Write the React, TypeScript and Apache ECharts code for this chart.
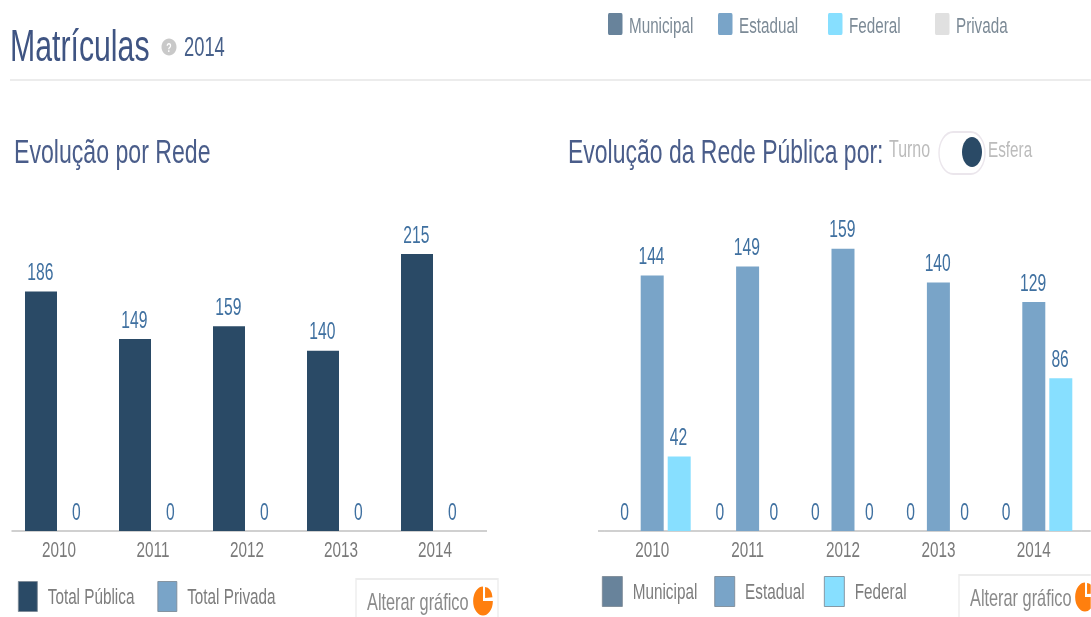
import React, { useEffect, useRef } from "react";
import * as echarts from "echarts";

const years = ["2010", "2011", "2012", "2013", "2014"];
const totalPublica = [186, 149, 159, 140, 215];
const totalPrivada = [0, 0, 0, 0, 0];
const municipal = [0, 0, 0, 0, 0];
const estadual = [144, 149, 159, 140, 129];
const federal = [42, 0, 0, 0, 86];
const topLegend = [
  { name: "Municipal", color: "#68839b", sq: 608, tx: 629 },
  { name: "Estadual", color: "#79a4c8", sq: 718, tx: 739 },
  { name: "Federal", color: "#87dfff", sq: 828, tx: 849 },
  { name: "Privada", color: "#e0e0e0", sq: 935, tx: 956 },
];

const S = 0.68;
const W = 1091 / S;
const H = 617;
const X = (x: number) => x / S;
const FONT = "'Liberation Sans', Arial, sans-serif";

const COL_DARK = "#2a4a66";
const COL_EST = "#79a4c8";
const COL_FED = "#87dfff";
const COL_MUN = "#68839b";
const COL_LABEL = "#3f70a0";
const COL_TITLE = "#3f5482";
const COL_AXIS = "#d0d0d0";
const COL_LEG = "#7d7d7d";

function text(x: number, y: number, t: string, size: number, fill: string, extra: any = {}) {
  return {
    type: "text",
    x: X(x),
    y,
    silent: true,
    style: { text: t, fontSize: size, fontFamily: FONT, fill, textVerticalAlign: "middle", verticalAlign: "middle", ...extra },
  };
}

function barSeries(name: string, data: number[], color: string, idx: number, width: number, gap: string) {
  return {
    type: "bar",
    name,
    data,
    xAxisIndex: idx,
    yAxisIndex: idx,
    barWidth: X(width),
    barGap: gap,
    itemStyle: { color },
    label: {
      show: true,
      position: "top",
      distance: 8,
      offset: [X(-0.7), 0],
      color: COL_LABEL,
      fontSize: 23,
      fontFamily: FONT,
    },
  };
}

function axisPair(max: number) {
  return {
    x: {
      type: "category",
      data: years,
      axisTick: { show: false },
      axisLine: { show: true, lineStyle: { color: COL_AXIS, width: 2 } },
      axisLabel: { color: "#7a7a7a", fontSize: 22.5, fontFamily: FONT, margin: 7 },
    },
    y: { type: "value", min: 0, max, show: false, splitLine: { show: false } },
  };
}

function altBox(left: number, right: number, top: number, textX: number, iconX: number) {
  const cy = top + 22;
  return [
    {
      type: "rect",
      silent: true,
      shape: { x: X(left), y: top, width: X(right - left), height: 80 },
      style: { fill: "#fff", stroke: "#ececec", lineWidth: 2 },
    },
    text(textX, cy, "Alterar gráfico", 24, "#8a8a8a"),
    {
      type: "sector",
      silent: true,
      shape: { cx: X(iconX), cy: cy, r: 14.5, r0: 0, startAngle: 0, endAngle: Math.PI * 1.5, clockwise: true },
      style: { fill: "#ff7f0e" },
    },
    {
      type: "sector",
      silent: true,
      shape: { cx: X(iconX) + 3, cy: cy - 3, r: 11, r0: 0, startAngle: Math.PI * 1.5, endAngle: Math.PI * 1.98, clockwise: true },
      style: { fill: "#ff7f0e" },
    },
  ];
}

function rightLegend(names: string[], leftX: number) {
  return {
    data: names,
    left: X(leftX),
    top: 576,
    padding: 0,
    selectedMode: false,
    icon: "rect",
    itemWidth: X(20),
    itemHeight: 30,
    itemGap: X(17),
    itemStyle: { borderColor: "#7b8894", borderWidth: 1 },
    textStyle: { color: COL_LEG, fontSize: 22.5, fontFamily: FONT, padding: [0, 0, 0, X(7)] },
  };
}

export default function App() {
  const ref = useRef<HTMLDivElement>(null);
  useEffect(() => {
    const chart = echarts.init(ref.current!, undefined, { renderer: "svg" });
    const left = axisPair(250);
    const right = axisPair(180);
    chart.setOption({
      animation: false,
      backgroundColor: "#fff",
      grid: [
        { left: X(12), width: X(470), top: 531 - 250 * 1.288, height: 250 * 1.288 },
        { left: X(604.5), width: X(477), top: 531 - 180 * 1.775, height: 180 * 1.775 },
      ],
      xAxis: [
        { ...left.x, gridIndex: 0 },
        { ...right.x, gridIndex: 1 },
      ],
      yAxis: [
        { ...left.y, gridIndex: 0 },
        { ...right.y, gridIndex: 1 },
      ],
      legend: [
        {
          data: ["Total Pública", "Total Privada"],
          left: X(18),
          top: 581,
          padding: 0,
          selectedMode: false,
          icon: "rect",
          itemWidth: X(19),
          itemHeight: 30,
          itemGap: X(23),
          itemStyle: { borderColor: "#7b8894", borderWidth: 1 },
          textStyle: { color: COL_LEG, fontSize: 22.5, fontFamily: FONT, padding: [0, 0, 0, X(7)] },
        },
        rightLegend(["Municipal", "Estadual"], 602),
        rightLegend(["Federal"], 824),
      ],
      series: [
        barSeries("Total Pública", totalPublica, COL_DARK, 0, 32, "12.5%"),
        barSeries("Total Privada", totalPrivada, COL_EST, 0, 32, "12.5%"),
        barSeries("Municipal", municipal, COL_MUN, 1, 23, "17.4%"),
        barSeries("Estadual", estadual, COL_EST, 1, 23, "17.4%"),
        barSeries("Federal", federal, COL_FED, 1, 23, "17.4%"),
      ],
      graphic: {
        elements: [
          text(10, 46, "Matrículas", 44.5, COL_TITLE),
          { type: "ellipse", silent: true, shape: { cx: X(169), cy: 47, rx: X(7.5), ry: 8.5 }, style: { fill: "#c9c9c9" } },
          text(169, 47, "?", 13, "#fff", { textAlign: "center", fontWeight: "bold" }),
          text(184, 47, "2014", 27, "#47608a"),
          { type: "rect", silent: true, shape: { x: X(10), y: 79, width: X(1081), height: 2 }, style: { fill: "#ececec" } },
          text(14, 151, "Evolução por Rede", 34, "#4a5d8a"),
          text(568, 151, "Evolução da Rede Pública por:", 33.8, "#4a5d8a"),
          text(889, 149, "Turno", 23.5, "#bcbcbc"),
          text(988, 149, "Esfera", 22.5, "#bcbcbc"),
          {
            type: "rect",
            silent: true,
            shape: { x: X(939), y: 132, width: X(46), height: 42, r: 21 },
            style: { fill: "#fff", stroke: "#ebe6ec", lineWidth: 2 },
          },
          { type: "ellipse", silent: true, shape: { cx: X(972), cy: 152, rx: X(10), ry: 15 }, style: { fill: "#2a4a66" } },
          ...topLegend.flatMap((d) => [
            {
              type: "rect",
              silent: true,
              shape: { x: X(d.sq), y: 13, width: X(14.5), height: 22, r: 2 },
              style: { fill: d.color },
            },
            text(d.tx, 25, d.name, 22.4, "#7c8a96"),
          ]),
          { type: "line", silent: true, shape: { x1: X(482), y1: 531, x2: X(487), y2: 531 }, style: { stroke: COL_AXIS, lineWidth: 2 } },
          { type: "line", silent: true, shape: { x1: X(598), y1: 531, x2: X(604.5), y2: 531 }, style: { stroke: COL_AXIS, lineWidth: 2 } },
          { type: "line", silent: true, shape: { x1: X(1081.5), y1: 531, x2: X(1091), y2: 531 }, style: { stroke: COL_AXIS, lineWidth: 2 } },
          ...altBox(356, 498, 579, 367, 483),
          ...altBox(959, 1100, 575, 970, 1085),
        ],
      },
    });
    return () => chart.dispose();
  }, []);
  return (
    <div style={{ position: "fixed", left: 0, top: 0, width: 1091, height: 617, overflow: "hidden", background: "#fff" }}>
      <div
        ref={ref}
        style={{
          position: "absolute",
          left: 0,
          top: 0,
          width: W,
          height: H,
          transform: `scaleX(${S})`,
          transformOrigin: "0 0",
          filter: "blur(0.35px)",
        }}
      />
    </div>
  );
}
